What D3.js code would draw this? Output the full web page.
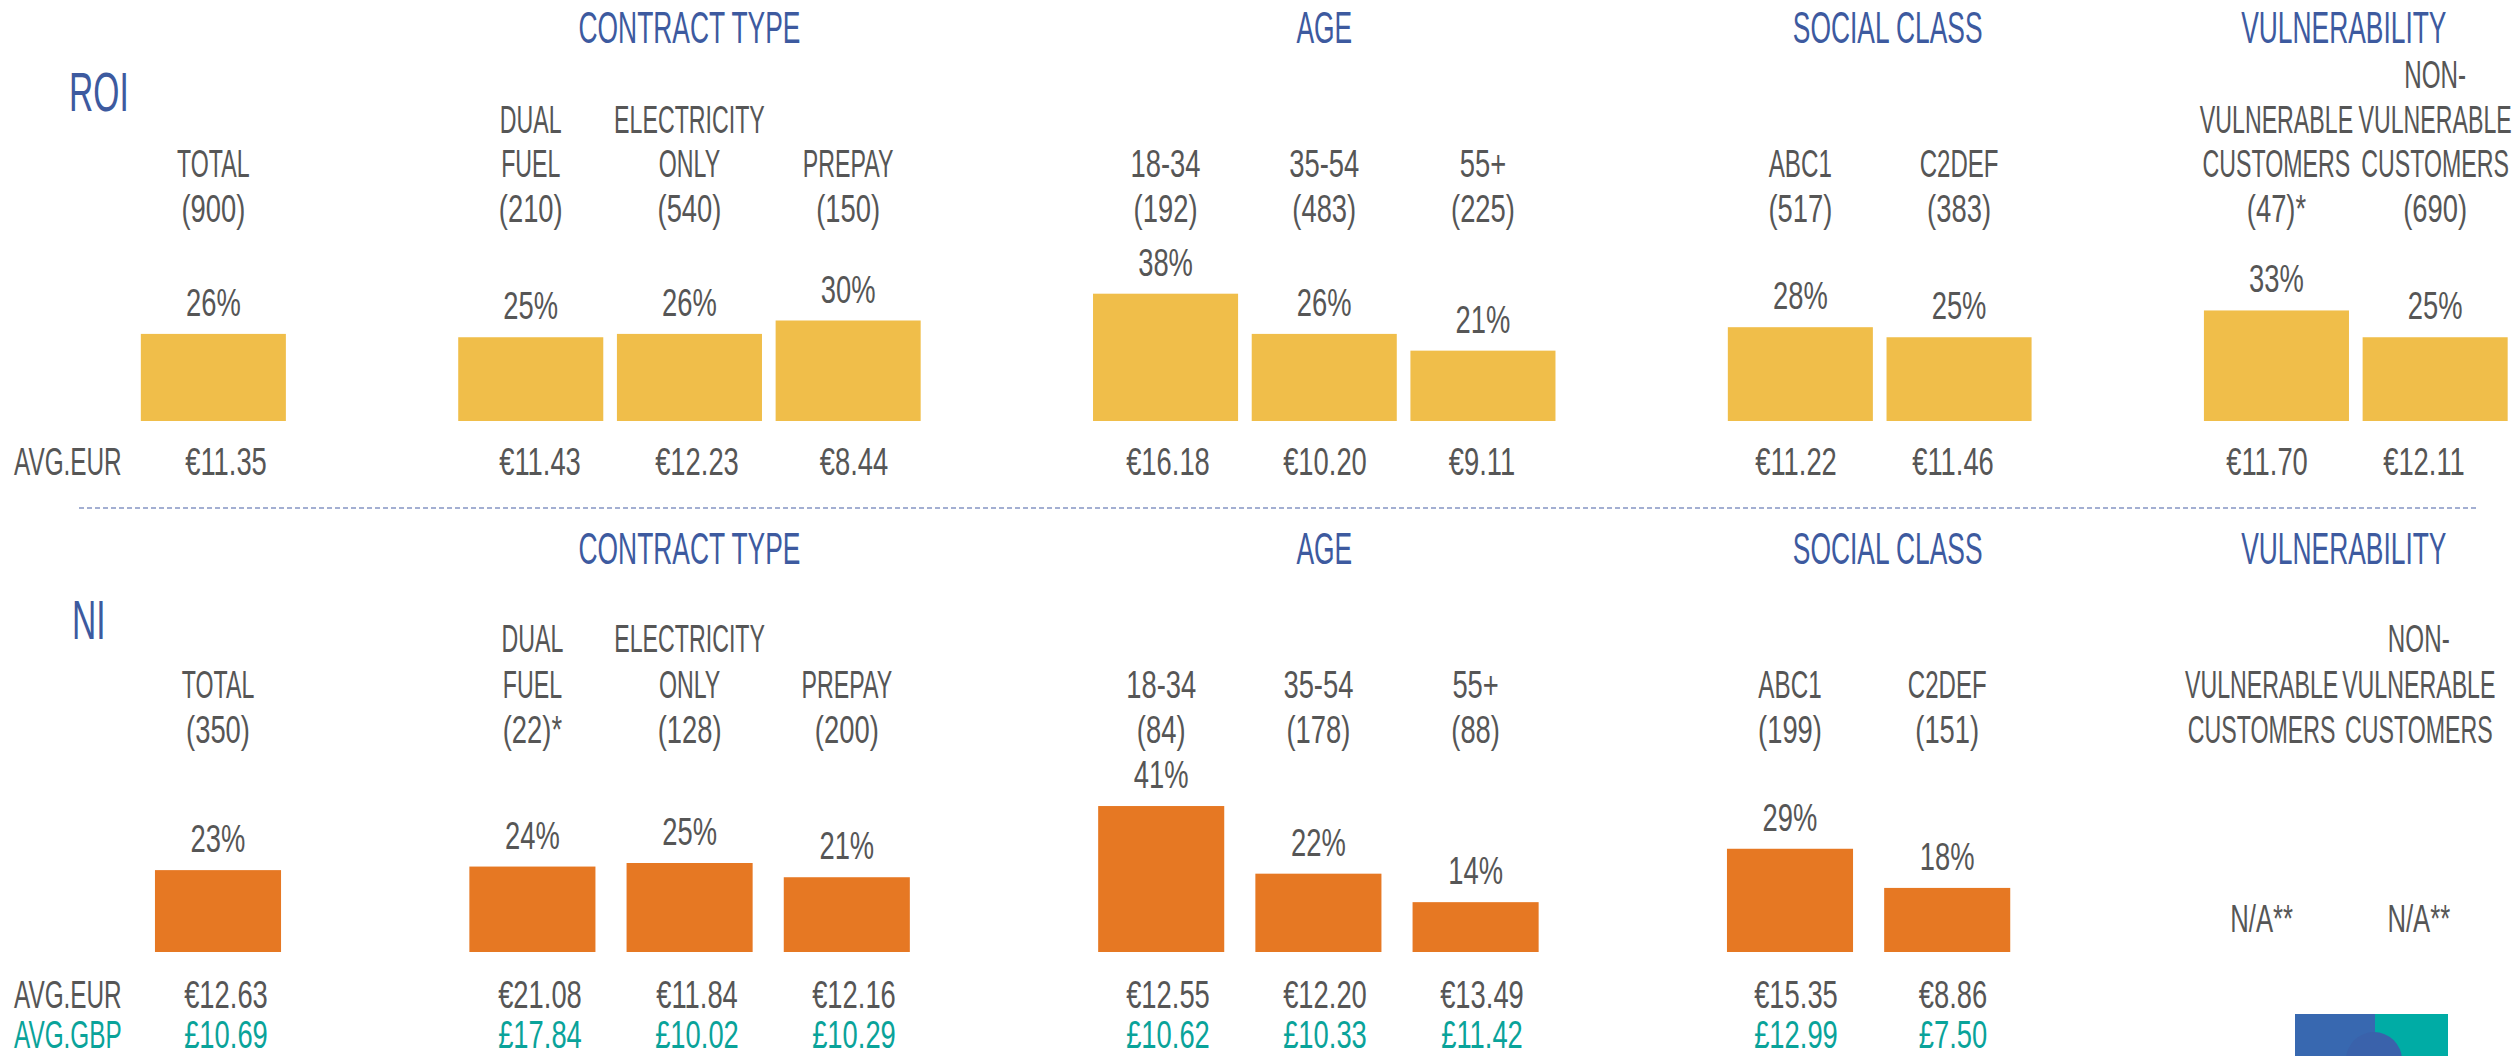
<!DOCTYPE html>
<html><head><meta charset="utf-8">
<script src="https://cdn.jsdelivr.net/npm/d3@7"></script>
<style>
html,body{margin:0;padding:0;background:#fff;}
svg{display:block;}
text{font-family:"Liberation Sans", Arial, sans-serif;}
</style></head><body>
<svg id="chart" width="2517" height="1056"></svg>
<script>
// ---------- DATA ----------
const groups = ["", "CONTRACT TYPE", "AGE", "SOCIAL CLASS", "VULNERABILITY"];
const categories = ["TOTAL","DUAL FUEL","ELECTRICITY ONLY","PREPAY","18-34","35-54","55+","ABC1","C2DEF","VULNERABLE CUSTOMERS","NON-VULNERABLE CUSTOMERS"];
const categoryGroup = ["", "CONTRACT TYPE","CONTRACT TYPE","CONTRACT TYPE","AGE","AGE","AGE","SOCIAL CLASS","SOCIAL CLASS","VULNERABILITY","VULNERABILITY"];
const categoryLines = [["TOTAL"],["DUAL","FUEL"],["ELECTRICITY","ONLY"],["PREPAY"],["18-34"],["35-54"],["55+"],["ABC1"],["C2DEF"],["VULNERABLE","CUSTOMERS"],["NON-","VULNERABLE","CUSTOMERS"]];

const roiBase = ["(900)","(210)","(540)","(150)","(192)","(483)","(225)","(517)","(383)","(47)*","(690)"];
const roiPct  = [26,25,26,30,38,26,21,28,25,33,25];
const roiEur  = ["€11.35","€11.43","€12.23","€8.44","€16.18","€10.20","€9.11","€11.22","€11.46","€11.70","€12.11"];

const niBase = ["(350)","(22)*","(128)","(200)","(84)","(178)","(88)","(199)","(151)",null,null];
const niPct  = [23,24,25,21,41,22,14,29,18,null,null];
const niEur  = ["€12.63","€21.08","€11.84","€12.16","€12.55","€12.20","€13.49","€15.35","€8.86",null,null];
const niGbp  = ["£10.69","£17.84","£10.02","£10.29","£10.62","£10.33","£11.42","£12.99","£7.50",null,null];
const naLabel = "N/A**";

// ---------- STYLE ----------
const BLUE = "#3d5a9f", GRAY = "#565656", YELLOW = "#f0be4a", ORANGE = "#e67823", TEAL = "#0aa39a";

const svg = d3.select("#chart");

// slot domain: categories with a spacer between groups
const slots = [];
categories.forEach((c, i) => {
  if (i > 0 && categoryGroup[i] !== categoryGroup[i-1]) slots.push("gap" + i);
  slots.push(c);
});

const xROI = d3.scaleBand().domain(slots).range([134, 2514.5]).paddingInner(0.086).paddingOuter(0.043);
const xNI  = d3.scaleBand().domain(slots).range([139.4, 2497.4]).paddingInner(0.198).paddingOuter(0.099);
const xVal = d3.scalePoint().domain(slots).range([226, 2424]);
const yROI = d3.scaleLinear().domain([0, 100]).range([421, 86]);
const yNI  = d3.scaleLinear().domain([0, 100]).range([952, 596]);

function cond(str) {
  let l = 0, o = 0;
  for (const ch of str) { if (/[A-Z]/.test(ch)) l++; else o++; }
  return (l * 0.61 + o * 0.72) / (l + o);
}
function txt(g, str, x, y, opts) {
  opts = opts || {};
  const s = opts.scale || cond(str);
  return g.append("text")
    .attr("transform", `translate(${x},${y}) scale(${s},1)`)
    .attr("text-anchor", opts.anchor || "middle")
    .attr("font-size", opts.size || 38)
    .attr("fill", opts.color || GRAY)
    .text(str);
}

function panel(cfg) {
  const g = svg.append("g");
  // group headers (same horizontal placement in both panels)
  groups.forEach(gr => {
    if (!gr) return;
    const cats = categories.filter((c, i) => categoryGroup[i] === gr);
    const x0 = xROI(cats[0]), x1 = xROI(cats[cats.length-1]) + xROI.bandwidth();
    txt(g, gr, (x0 + x1) / 2 + (gr === "VULNERABILITY" ? -12 : gr === "SOCIAL CLASS" ? 8 : 0), cfg.headerY, {size: 44, color: BLUE, scale: 0.6});
  });
  // panel name
  txt(g, cfg.name, cfg.nameX, cfg.nameY, {size: 56, color: BLUE, anchor: "start", scale: 0.6});

  categories.forEach((c, i) => {
    const cx = cfg.x(c) + cfg.x.bandwidth() / 2;
    const lines = categoryLines[i].slice();
    if (cfg.base[i]) lines.push(cfg.base[i]);
    lines.forEach((ln, k) => {
      txt(g, ln, cx, cfg.labelBottom - (lines.length - 1 - k) * cfg.lineH);
    });
    const v = cfg.pct[i];
    if (v != null) {
      g.append("rect")
        .attr("x", cfg.x(c)).attr("width", cfg.x.bandwidth())
        .attr("y", cfg.y(v)).attr("height", cfg.y(0) - cfg.y(v))
        .attr("fill", cfg.color);
      txt(g, v + "%", cx, cfg.y(v) - 18);
    } else {
      txt(g, naLabel, cx, cfg.naY);
    }
    if (cfg.eur[i]) txt(g, cfg.eur[i], xVal(c), cfg.eurY);
    if (cfg.gbp && cfg.gbp[i]) txt(g, cfg.gbp[i], xVal(c), cfg.gbpY, {color: TEAL});
  });
  txt(g, "AVG.EUR", 14, cfg.eurY, {anchor: "start", scale: 0.64});
  if (cfg.gbp) txt(g, "AVG.GBP", 14, cfg.gbpY, {anchor: "start", scale: 0.64, color: TEAL});
}

panel({name: "ROI", nameX: 69, nameY: 111, headerY: 43, x: xROI, y: yROI, color: YELLOW,
  base: roiBase, pct: roiPct, eur: roiEur, labelBottom: 222, lineH: 44.7, eurY: 475});
panel({name: "NI", nameX: 72, nameY: 639, headerY: 564, x: xNI, y: yNI, color: ORANGE,
  base: niBase, pct: niPct, eur: niEur, gbp: niGbp, labelBottom: 743, lineH: 45.5, eurY: 1008, gbpY: 1048, naY: 932});

// separator
svg.append("line").attr("x1", 79).attr("x2", 2479).attr("y1", 508).attr("y2", 508)
  .attr("stroke", "#8595c4").attr("stroke-width", 1.5).attr("stroke-dasharray", "5,3");

// logo fragment (bottom right)
const logo = svg.append("g");
logo.append("clipPath").attr("id", "lc").append("rect").attr("x", 2295).attr("y", 1014).attr("width", 153).attr("height", 42);
const lg = logo.append("g").attr("clip-path", "url(#lc)");
lg.append("rect").attr("x", 2295).attr("y", 1014).attr("width", 80).attr("height", 42).attr("fill", "#3868b0");
lg.append("rect").attr("x", 2375).attr("y", 1014).attr("width", 73).attr("height", 42).attr("fill", "#00aca5");
lg.append("circle").attr("cx", 2374).attr("cy", 1060).attr("r", 28).attr("fill", "#3a62ab");
</script>
</body></html>
